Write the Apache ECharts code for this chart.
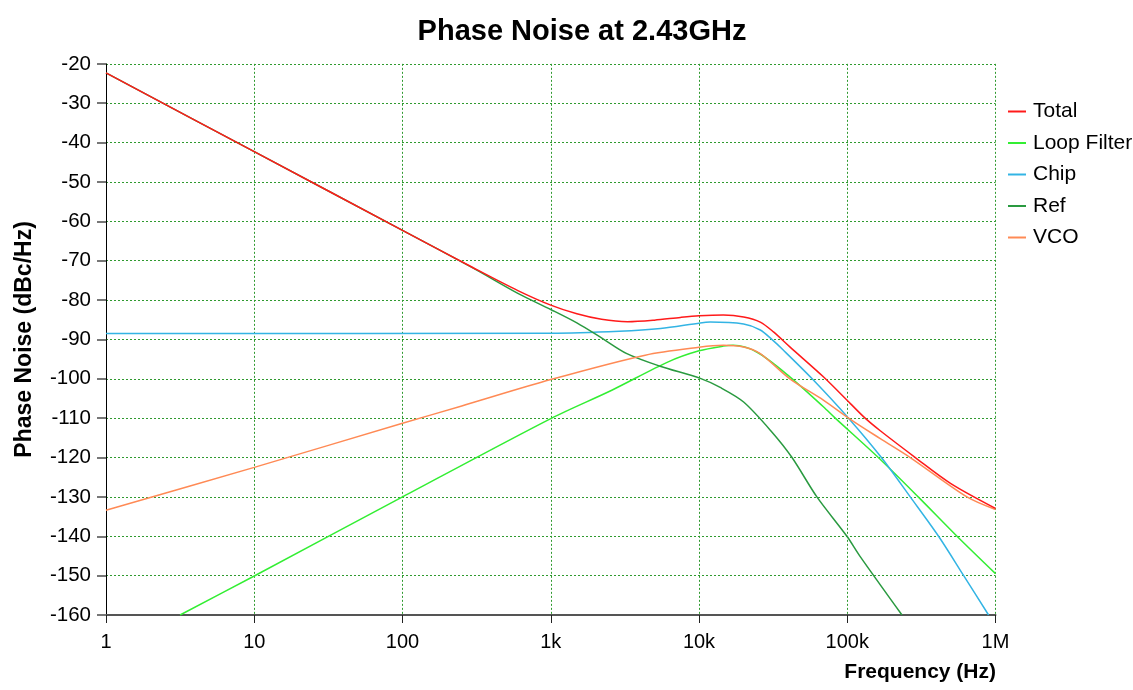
<!DOCTYPE html>
<html>
<head>
<meta charset="utf-8">
<title>Phase Noise at 2.43GHz</title>
<script src="https://cdn.jsdelivr.net/npm/echarts@6/dist/echarts.min.js"></script>
<style>
  html, body { margin: 0; padding: 0; background: #ffffff; }
  #chart { width: 1133px; height: 690px; }
</style>
</head>
<body>
<div id="chart"></div>
<script>
// Offset frequency (Hz) and phase noise (dBc/Hz) for each contributor
const seriesNames = ['Total', 'Loop Filter', 'Chip', 'Ref', 'VCO'];

const totalPoints = [
  [1, -22.3], [10, -42.3], [100, -62.3], [300, -71.8], [600, -77.6], [1000, -81.3],
  [1500, -83.5], [2200, -84.9], [3300, -85.5], [5000, -85.1], [7500, -84.4],
  [10000, -84.0], [14600, -83.8], [20000, -84.3], [25900, -85.6], [31800, -88.1],
  [41000, -91.9], [69000, -99.5], [105000, -106.3], [132000, -110], [167000, -113.2],
  [288000, -120], [500000, -126.6], [1000000, -132.9]
];

const loopFilterPoints = [
  [3.16, -160], [10, -150.1], [100, -130], [1000, -110.1], [2580, -102.9],
  [6200, -95.7], [10000, -92.9], [14600, -91.7], [17000, -91.5], [24500, -93.2],
  [41000, -99.5], [69000, -107.1], [83000, -110], [162000, -120], [301000, -130],
  [550000, -140], [1000000, -149.5]
];

const chipPoints = [
  [1, -88.5], [1000, -88.4], [2900, -87.9], [5500, -87.2], [10200, -85.8],
  [11900, -85.6], [20000, -86.1], [25900, -87.6], [31000, -90], [37000, -92.7],
  [58000, -100], [102000, -110], [170000, -120], [266000, -130], [413000, -140],
  [610000, -150], [898000, -160]
];

const refPoints = [
  [1, -22.3], [10, -42.3], [100, -62.3], [300, -71.9], [600, -78.3], [1000, -82.4],
  [1500, -85.8], [2200, -89.6], [3260, -93.6], [5470, -96.8], [10200, -99.9],
  [13900, -102.2], [20000, -105.9], [31000, -113.5], [42400, -120], [62400, -130],
  [99500, -140], [122000, -145.1], [234000, -160]
];

const vcoPoints = [
  [1, -133.4], [10, -122.5], [100, -111.3], [251, -106.9], [1000, -100.2],
  [4340, -94.0], [10000, -92.0], [14600, -91.5], [20000, -91.9], [25900, -93.6],
  [41000, -100], [69000, -105.4], [105000, -110.3], [167000, -115.2], [266000, -120],
  [642000, -130], [1000000, -133.2]
];

// Decade labels along the frequency axis
const freqTickLabels = { 1: '1', 10: '10', 100: '100', 1000: '1k', 10000: '10k', 100000: '100k', 1000000: '1M' };

const seriesPoints = [totalPoints, loopFilterPoints, chipPoints, refPoints, vcoPoints];
const seriesColors = ['#ff1a1a', '#33ee33', '#33b4e4', '#2a9a40', '#ff8a55'];
const seriesZ = [10, 6, 7, 8, 9];

const FONT = 'Liberation Sans, Arial, sans-serif';
const gridGreen = '#2f9a2f';

const chart = echarts.init(document.getElementById('chart'), null, { renderer: 'canvas' });

chart.setOption({
  backgroundColor: '#ffffff',
  animation: false,
  title: {
    text: 'Phase Noise at 2.43GHz',
    left: 577,
    top: 12,
    textAlign: 'center',
    textStyle: { fontFamily: FONT, fontSize: 29, fontWeight: 'bold', color: '#000' }
  },
  legend: {
    orient: 'vertical',
    left: 1003,
    top: 96,
    itemWidth: 18,
    itemHeight: 2,
    itemGap: 10.5,
    icon: 'rect',
    data: seriesNames,
    textStyle: { fontFamily: FONT, fontSize: 21, lineHeight: 21, color: '#000', padding: [0, 0, 0, 2] }
  },
  grid: { left: 106, right: 137.5, top: 63.85, bottom: 75, containLabel: false },
  xAxis: {
    type: 'log',
    logBase: 10,
    min: 1,
    max: 1000000,
    axisLine: { show: true, lineStyle: { color: '#555', width: 2 } },
    axisTick: { show: true, length: 8, inside: false, lineStyle: { color: '#222', width: 1 } },
    axisLabel: {
      fontFamily: FONT, fontSize: 20, color: '#000', margin: 17,
      formatter: v => freqTickLabels[Math.round(v)] || ''
    },
    splitLine: { show: true, lineStyle: { color: gridGreen, type: [2, 2], width: 1 } },
    minorTick: { show: false },
    minorSplitLine: { show: false }
  },
  yAxis: {
    type: 'value',
    min: -160,
    max: -20,
    interval: 10,
    name: 'Phase Noise (dBc/Hz)',
    nameLocation: 'middle',
    nameGap: 70,
    nameRotate: 90,
    nameTextStyle: { fontFamily: FONT, fontSize: 23, fontWeight: 'bold', color: '#000' },
    axisLine: { show: true, lineStyle: { color: '#000', width: 1 } },
    axisTick: { show: true, length: 9, inside: false, lineStyle: { color: '#777', width: 2 } },
    axisLabel: { fontFamily: FONT, fontSize: 20.5, color: '#000', margin: 15 },
    splitLine: { show: true, lineStyle: { color: gridGreen, type: [2, 2], width: 1 } }
  },
  graphic: [{
    type: 'text',
    right: 1133 - 996,
    top: 662,
    style: {
      text: 'Frequency (Hz)',
      fontFamily: FONT, fontSize: 21, fontWeight: 'bold', fill: '#000'
    }
  }],
  series: seriesNames.map((name, i) => ({
    name,
    type: 'line',
    data: seriesPoints[i],
    showSymbol: false,
    smooth: 0.3,
    z: seriesZ[i],
    color: seriesColors[i],
    lineStyle: { color: seriesColors[i], width: 1.5 },
    emphasis: { disabled: true }
  }))
});
</script>
</body>
</html>
